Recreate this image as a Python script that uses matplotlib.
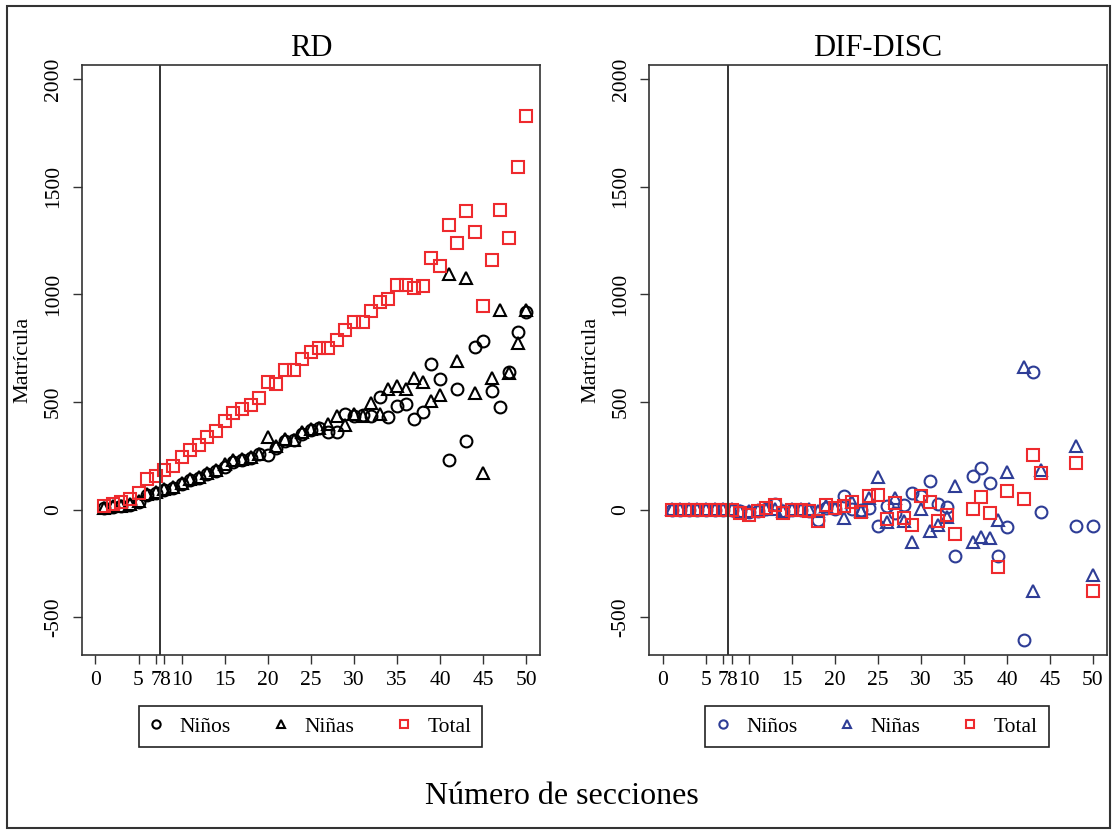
import matplotlib
matplotlib.use('Agg')
import matplotlib.pyplot as plt
from matplotlib.patches import Rectangle

plt.rcParams['font.family'] = ['Liberation Serif', 'DejaVu Serif']
plt.rcParams['axes.unicode_minus'] = False

# RD panel: every section 1..50
secciones = list(range(1, 51))
rd_ninos = [9, 13, 17, 23, 38, 70, 77, 90, 100, 120,
            137, 147, 166, 180, 200, 220, 231, 240, 258, 255,
            287, 318, 322, 352, 370, 380, 361, 361, 443, 435,
            440, 435, 523, 431, 481, 491, 421, 454, 676, 606,
            231, 560, 319, 755, 782, 551, 477, 639, 824, 917]
rd_ninas = [10, 15, 18, 25, 41, 74, 80, 95, 104, 125,
            141, 154, 172, 186, 210, 229, 237, 246, 261, 338,
            296, 330, 326, 361, 375, 380, 398, 435, 394, 445,
            435, 495, 444, 560, 574, 560, 611, 593, 505, 532,
            1097, 690, 1074, 542, 171, 611, 926, 634, 773, 926]
rd_total = [19, 28, 35, 48, 79, 144, 157, 185, 204, 245,
            278, 301, 338, 366, 410, 449, 468, 486, 519, 595,
            583, 648, 648, 699, 731, 750, 750, 787, 833, 870,
            870, 921, 963, 981, 1046, 1042, 1028, 1037, 1171, 1130,
            1324, 1241, 1389, 1292, 944, 1162, 1394, 1264, 1593, 1830]

# DIF-DISC panel: sections with an estimate
dd_secciones = [1, 2, 3, 4, 5, 6, 7, 8, 9, 10,
                11, 12, 13, 14, 15, 16, 17, 18, 19, 20,
                21, 22, 23, 24, 25, 26, 27, 28, 29, 30,
                31, 32, 33, 34, 36, 37, 38, 39, 40, 42,
                43, 44, 48, 50]
dd_ninos = [0, 0, 0, 0, 0, 0, 0, 0, -8, -12,
            -4, 3, 25, -5, 0, -2, -5, -48, 8, 3,
            62, 5, -3, 10, -78, 19, -17, 23, 79, 62,
            134, 28, 14, -215, 157, 192, 125, -215, -80, -606,
            639, -9, -78, -74]
dd_ninas = [3, 3, 3, 3, 3, 3, 3, 3, -5, -8,
            -3, 4, 3, -8, 2, 3, 5, -5, 18, 8,
            -40, 35, -8, 55, 150, -55, 55, -51, -148, 5,
            -97, -72, -32, 108, -150, -127, -132, -47, 176, 662,
            -380, 183, 296, -305]
dd_total = [0, 0, 0, 0, 0, 0, 0, -2, -15, -23,
            -8, 8, 23, -15, 0, 0, -5, -51, 23, 8,
            15, 37, -10, 62, 70, -42, 32, -37, -69, 65,
            37, -51, -23, -111, 5, 58, -16, -267, 88, 51,
            255, 171, 218, -380]

xticks = [0, 5, 7, 8, 10, 15, 20, 25, 30, 35, 40, 45, 50]
yticks = [-500, 0, 500, 1000, 1500, 2000]
RED = '#ee2a2e'
BLUE = '#2e3d96'

W, H = 1115, 833
fig = plt.figure(figsize=(W / 100, H / 100), dpi=100)
fig.patches.append(Rectangle((7 / W, 1 - 828 / H), 1103 / W, 822 / H,
                             transform=fig.transFigure, fill=False,
                             edgecolor='#333333', lw=1.5))

ax1 = fig.add_axes([81.7 / W, 1 - 655 / H, 458.3 / W, 590.5 / H])
ax2 = fig.add_axes([649.3 / W, 1 - 655 / H, 457.4 / W, 590.5 / H])


def panel(ax, x, ninos, ninas, total, color, title, legx):
    ax.plot(x, ninos, 'o', ls='none', mfc='none', mec=color, ms=8.5, mew=1.5, label='Niños')
    ax.plot(x, ninas, '^', ls='none', mfc='none', mec=color, ms=9, mew=1.5, label='Niñas')
    ax.plot(x, total, 's', ls='none', mfc='none', mec=RED, ms=8.3, mew=1.5, label='Total')
    ax.axvline(7.5, color='#333333', lw=1.4)
    ax.set_xlim(-1.6, 51.6)
    ax.set_ylim(-675, 2068)
    ax.set_xticks(xticks)
    ax.set_yticks(yticks)
    ax.tick_params(axis='both', length=6.5, width=1.0, color='#333333', labelsize=15.5)
    ax.tick_params(axis='x', pad=5)
    ax.tick_params(axis='y', pad=7)
    for lab in ax.get_yticklabels():
        lab.set_rotation(90)
        lab.set_va('center')
    for s in ax.spines.values():
        s.set_color('#333333')
        s.set_linewidth(1.2)
    ax.set_title(title, fontsize=22, pad=6)
    ax.set_ylabel('Matrícula', fontsize=16)
    ax.yaxis.set_label_coords(-0.108, 0.5)
    leg = ax.legend(loc='center', bbox_to_anchor=(legx, 106.5 / H),
                    bbox_transform=fig.transFigure, ncol=3, fontsize=15.5,
                    markerscale=0.7, handlelength=0.6, handletextpad=0.8,
                    columnspacing=2.0, borderpad=0.5, fancybox=False,
                    edgecolor='#222222', framealpha=1)
    leg.get_frame().set_linewidth(1.2)


panel(ax1, secciones, rd_ninos, rd_ninas, rd_total, 'black', 'RD', 310.5 / W)
panel(ax2, dd_secciones, dd_ninos, dd_ninas, dd_total, BLUE, 'DIF-DISC', 877 / W)

fig.text(562 / W, 1 - 797 / H, 'Número de secciones', fontsize=23,
         ha='center', va='center')

fig.savefig('out.png', dpi=100)
